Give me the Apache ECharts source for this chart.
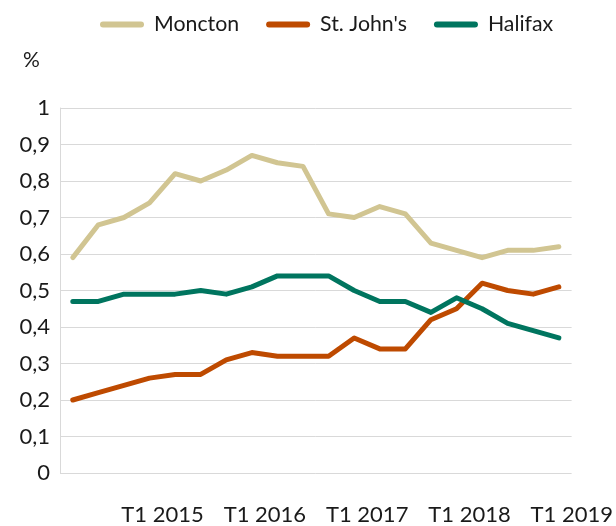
<!DOCTYPE html>
<html>
<head>
<meta charset="utf-8">
<script src="https://cdn.jsdelivr.net/npm/echarts@6/dist/echarts.min.js"></script>
<style>html,body{margin:0;padding:0;background:#fff}#c{width:616px;height:526px}</style>
</head>
<body>
<div id="c"></div>
<script>
var categories = ['T2 2014','T3 2014','T4 2014',
  'T1 2015','T2 2015','T3 2015','T4 2015',
  'T1 2016','T2 2016','T3 2016','T4 2016',
  'T1 2017','T2 2017','T3 2017','T4 2017',
  'T1 2018','T2 2018','T3 2018','T4 2018',
  'T1 2019'];
var moncton = [0.59,0.68,0.70,0.74,0.82,0.80,0.83,0.87,0.85,0.84,0.71,0.70,0.73,0.71,0.63,0.61,0.59,0.61,0.61,0.62];
var stJohns = [0.20,0.22,0.24,0.26,0.27,0.27,0.31,0.33,0.32,0.32,0.32,0.37,0.34,0.34,0.42,0.45,0.52,0.50,0.49,0.51];
var halifax = [0.47,0.47,0.49,0.49,0.49,0.50,0.49,0.51,0.54,0.54,0.54,0.50,0.47,0.47,0.44,0.48,0.45,0.41,0.39,0.37];
var seriesNames = ['Moncton', "St. John's", 'Halifax'];
var colors = ['#D1C592', '#BE4A00', '#00755F'];

var FONT = 'Lato';
var chart = echarts.init(document.getElementById('c'));
function mk(name, data, color) {
  return {
    name: name, type: 'line', data: data, symbol: 'none', smooth: false,
    color: color,
    lineStyle: { width: 5, color: color, cap: 'round', join: 'round' }
  };
}
chart.setOption({
  animation: false,
  textStyle: { fontFamily: FONT },
  title: { text: '%', left: 18, top: 45, textStyle: { fontFamily: FONT, fontSize: 21, fontWeight: 'normal', color: '#1a1a1a' } },
  legend: {
    left: 95, top: 9, itemWidth: 44, itemHeight: 6, itemGap: 27,
    icon: 'path://M3,0 L41,0 A3,3 0 0 1 41,6 L3,6 A3,3 0 0 1 3,0 Z',
    textStyle: { fontFamily: FONT, fontSize: 21.3, color: '#1a1a1a', padding: [0, 0, 0, 5] },
    data: seriesNames
  },
  grid: { left: 60, right: 43, top: 108, bottom: 53 },
  xAxis: {
    type: 'category', data: categories, boundaryGap: true,
    axisLine: { show: false },
    axisTick: { show: false },
    axisLabel: {
      interval: function (i, v) { return v.indexOf('T1') === 0; },
      fontFamily: FONT, fontSize: 22, color: '#1a1a1a', margin: 31,
      padding: [0, 0, 0, 26]
    }
  },
  yAxis: {
    type: 'value', min: 0, max: 1, interval: 0.1,
    axisLine: { show: true, lineStyle: { color: '#d9d9d9', width: 1 } },
    axisTick: { show: false },
    splitLine: { lineStyle: { color: '#d9d9d9', width: 1 } },
    axisLabel: {
      fontFamily: FONT, fontSize: 22, color: '#1a1a1a', margin: 10,
      formatter: function (v) { return (Math.round(v * 10) / 10).toString().replace('.', ','); }
    }
  },
  series: [mk(seriesNames[0], moncton, colors[0]), mk(seriesNames[1], stJohns, colors[1]), mk(seriesNames[2], halifax, colors[2])]
});
</script>
</body>
</html>
